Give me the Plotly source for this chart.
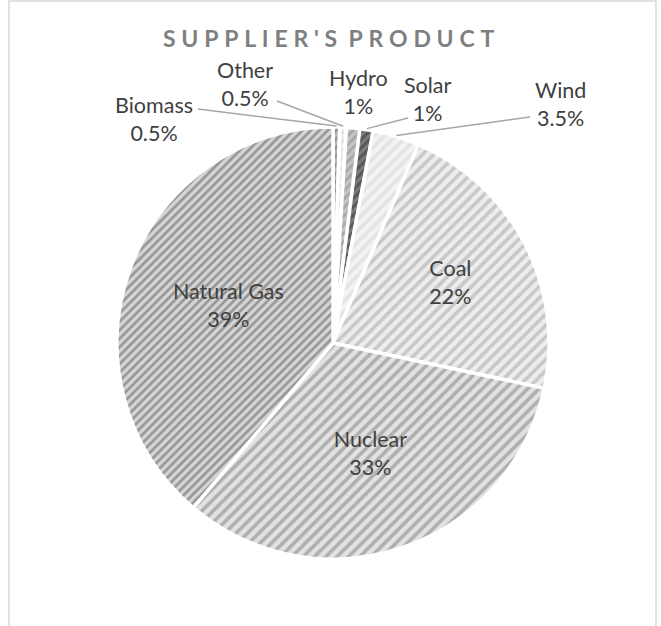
import math
import plotly.graph_objects as go

# ---- data ----
categories = ["Biomass", "Other", "Hydro", "Solar", "Wind", "Coal", "Nuclear", "Natural Gas"]
shares = [0.5, 0.5, 1, 1, 3.5, 22, 33, 39]
pct_labels = ["0.5%", "0.5%", "1%", "1%", "3.5%", "22%", "33%", "39%"]
inside_flags = [False, False, False, False, False, True, True, True]

# ---- styling ----
W, H = 661, 626
CX, CY, R = 333, 343, 216
fg = ["#6e6e6e", "#d6d6d6", "#8a8a8a", "#303030", "#d4d4d4", "#a3a3a3", "#7c7c7c", "#555555"]
bg = ["#b4b4b4", "#f0f0f0", "#c4c4c4", "#7a7a7a", "#f3f3f3", "#ededed", "#e2e2e2", "#d6d6d6"]
psize = [6, 6, 6, 6, 8, 8, 8, 6]
FONT = "Lato"
TXT = "#404040"
FS = 21.5

def px2paper(x, y):
    return x / W, 1 - y / H

text = [f"{c}<br>{p}" if f else "" for c, p, f in zip(categories, pct_labels, inside_flags)]
textpos = ["inside" if f else "none" for f in inside_flags]

x0, y1 = px2paper(CX - R, CY - R)
x1, y0 = px2paper(CX + R, CY + R)

fig = go.Figure(go.Pie(
    labels=categories,
    values=shares,
    sort=False,
    direction="clockwise",
    rotation=0,
    text=text,
    textinfo="text",
    textposition=textpos,
    insidetextorientation="horizontal",
    textfont=dict(family=FONT, size=FS, color=TXT),
    marker=dict(
        colors=bg,
        line=dict(color="white", width=3.5),
        pattern=dict(shape="/", fgcolor=fg, bgcolor=bg, size=psize, solidity=0.45, fillmode="overlay"),
    ),
    domain=dict(x=[x0, x1], y=[y0, y1]),
    showlegend=False,
    hoverinfo="label+percent",
))

# outside labels with leader lines (slice points computed from data)
label_pos = {  # text centre (px), leader anchor (px)
    "Biomass": ((154, 119), (198, 109)),
    "Other": ((245, 84), (277, 101)),
    "Hydro": ((358, 92), None),
    "Solar": ((428, 99), (408, 118)),
    "Wind": ((560, 104), (530, 117)),
}
total = sum(shares)
cum = 0
annotations = []
shapes = []
for cat, v, p, f in zip(categories, shares, pct_labels, inside_flags):
    mid = (cum + v / 2) / total * 2 * math.pi
    cum += v
    if f:
        continue
    (tx, ty), anchor = label_pos[cat]
    px, py = px2paper(tx, ty)
    annotations.append(dict(x=px, y=py, xref="paper", yref="paper", text=f"{cat}<br>{p}",
                            showarrow=False, font=dict(family=FONT, size=FS, color=TXT),
                            align="center", xanchor="center", yanchor="middle"))
    if anchor:
        ex, ey = CX + (R + 1) * math.sin(mid), CY - (R + 1) * math.cos(mid)
        ax_, ay_ = anchor
        a = px2paper(ax_, ay_)
        e = px2paper(ex, ey)
        shapes.append(dict(type="line", xref="paper", yref="paper", x0=e[0], y0=e[1], x1=a[0], y1=a[1],
                           line=dict(color="#a6a6a6", width=1.5)))

# chart frame
fx0, _ = px2paper(9, 0)
fx1, _ = px2paper(656, 0)
shapes.append(dict(type="rect", xref="paper", yref="paper", x0=fx0, x1=fx1, y0=-0.2, y1=1 - 1 / H,
                   line=dict(color="#d9d9d9", width=1.5), fillcolor="rgba(0,0,0,0)", layer="below"))

title_text = "\u2005".join("SUPPLIER'S") + " \u2005" + "\u2005".join("PRODUCT")
tx, ty = px2paper(328, 38)
annotations.append(dict(x=tx, y=ty, xref="paper", yref="paper", text=f"<b>{title_text}</b>",
                        showarrow=False, font=dict(family=FONT, size=23, color="#7f7f7f"),
                        xanchor="center", yanchor="middle"))

fig.update_layout(
    width=W, height=H,
    margin=dict(l=0, r=0, t=0, b=0),
    paper_bgcolor="white", plot_bgcolor="white",
    annotations=annotations,
    shapes=shapes,
)
fig.write_html("out.html", config={"displayModeBar": False},
               post_script="document.body.style.margin='0';document.body.style.overflow='hidden';")
